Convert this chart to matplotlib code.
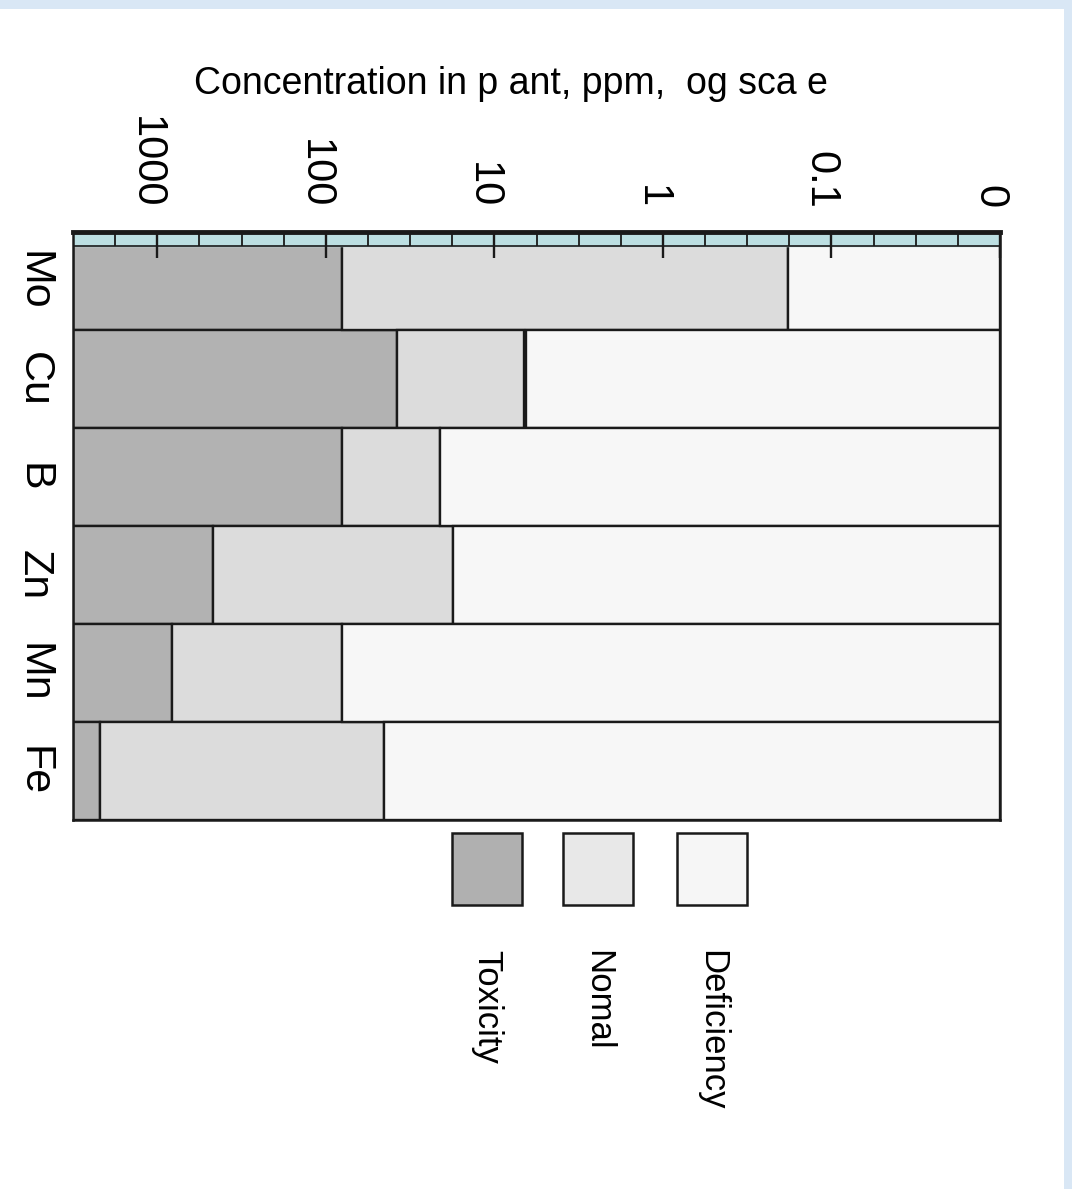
import matplotlib

matplotlib.use("Agg")
import matplotlib.pyplot as plt
import numpy as np
from matplotlib.patches import Rectangle
from matplotlib.transforms import ScaledTranslation

plt.rcParams["font.family"] = ["Liberation Sans", "DejaVu Sans"]

# --- data ---------------------------------------------------------------------
elements = ["Mo", "Cu", "B", "Zn", "Mn", "Fe"]
# upper edge of the normal range (start of toxicity), ppm
toxic_from = [80, 38, 80, 465, 815, 2180]
# lower edge of the normal range, ppm
normal_to = [0.18, 6.7, 21, 17.6, 80, 45]
# upper edge of the deficiency range, ppm
deficient_to = [0.18, 6.5, 21, 17.6, 80, 45]

x_max = 10 ** 3.5
x_min = 0.01
tick_vals = [1000, 100, 10, 1, 0.1, 0.01]
tick_labels = ["1000", "100", "10", "1", "0.1", "0"]

legend_names = ["Toxicity", "Nomal", "Deficiency"]
legend_colors = ["#b0b0b0", "#e8e8e8", "#f6f6f6"]

TOX_C = "#b2b2b2"
NORM_C = "#dcdcdc"
DEF_C = "#f7f7f7"
EDGE = "#1a1a1a"

W, H = 1072, 1189
fig = plt.figure(figsize=(W / 100, H / 100), dpi=100)
fig.patch.set_facecolor("white")

# pale blue page border (top and right)
fig.add_artist(Rectangle((0, 1 - 9 / H), 1, 9 / H, transform=fig.transFigure,
                         color="#d9e7f5", lw=0))
fig.add_artist(Rectangle((1 - 8 / W, 0), 8 / W, 1, transform=fig.transFigure,
                         color="#d9e7f5", lw=0))

ax = fig.add_axes([73 / W, 1 - 820 / H, (1000 - 73) / W, (820 - 232) / H])
ax.set_xscale("log")

y = np.arange(len(elements))
tox = np.array(toxic_from, dtype=float)
nlo = np.array(normal_to, dtype=float)
dhi = np.array(deficient_to, dtype=float)

bar_kw = dict(height=1.0, edgecolor=EDGE, linewidth=1.7, zorder=1)
ax.barh(y, x_max - tox, left=tox, color=TOX_C, **bar_kw)
ax.barh(y, tox - nlo, left=nlo, color=NORM_C, **bar_kw)
ax.barh(y, dhi - x_min, left=x_min, color=DEF_C, **bar_kw)

ax.set_xlim(x_max, x_min)
ax.set_ylim(len(elements) - 0.5, -0.5)

# teal scale strip along the top
strip_h = 14 / 98
ax.axhspan(-0.5, -0.5 + strip_h, color="#bcdfe2", zorder=2)
ax.axhline(-0.5 + strip_h, color=EDGE, lw=1.2, zorder=2)
strip_x = 10 ** (3.5 - 0.25 * np.arange(1, 22))
ax.vlines(strip_x, -0.5, -0.5 + strip_h, color=EDGE, lw=1.3, zorder=2)

ax.set_axisbelow(False)
ax.xaxis.tick_top()
ax.set_xticks(tick_vals)
ax.set_xticklabels(tick_labels, rotation=-90, fontsize=30)
ax.xaxis.set_minor_locator(matplotlib.ticker.NullLocator())
ax.tick_params(axis="x", direction="in", length=19, width=1.7, pad=17,
               color=EDGE)
# labels sit a little left of their ticks in the original
shift = ScaledTranslation(-11 / 100, 0, fig.dpi_scale_trans)
for lab in ax.get_xticklabels():
    lab.set_transform(lab.get_transform() + shift)

ax.set_yticks(y)
ax.set_yticklabels(elements, rotation=-90, fontsize=31, va="center")
ax.tick_params(axis="y", length=0, pad=14)

for side, sp in ax.spines.items():
    sp.set_color(EDGE)
    sp.set_linewidth(3.5 if side == "top" else 1.8)

fig.text(511 / W, 1 - 84 / H, "Concentration in p ant, ppm,  og sca e",
         fontsize=27, ha="center", va="center")

# legend: squares in a row, rotated names underneath
sq_x = [452, 563, 677]
for x0, name, c in zip(sq_x, legend_names, legend_colors):
    fig.add_artist(Rectangle((x0 / W, 1 - 905 / H), 70 / W, 72 / H,
                             transform=fig.transFigure, facecolor=c,
                             edgecolor=EDGE, lw=1.8))
    fig.text((x0 + 35) / W, 1 - 950 / H, name, rotation=-90, fontsize=25,
             ha="center", va="top")

fig.savefig("out.png", dpi=100)
